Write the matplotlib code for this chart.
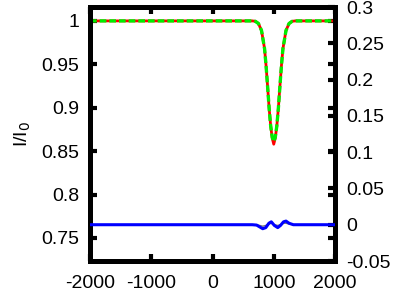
import matplotlib
matplotlib.use("Agg")
import matplotlib.pyplot as plt

plt.rcParams['font.family'] = ['Liberation Sans', 'DejaVu Sans']

# transmission dip (left axis)
dip_x = [-2000, 650, 700, 750, 800, 850, 875, 900, 925, 950, 975, 1000,
         1025, 1050, 1075, 1100, 1125, 1150, 1200, 1250, 1300, 1350, 2000]
dip_red = [1, 1, 0.9995, 0.997, 0.989, 0.968, 0.948, 0.924, 0.899, 0.879, 0.865, 0.858,
           0.865, 0.879, 0.899, 0.924, 0.948, 0.968, 0.989, 0.997, 0.9995, 1, 1]
dip_green = [1, 1, 0.9995, 0.997, 0.989, 0.968, 0.948, 0.924, 0.899, 0.879, 0.866, 0.861,
             0.866, 0.879, 0.899, 0.924, 0.948, 0.968, 0.989, 0.997, 0.9995, 1, 1]

# small residual (right axis)
res_x = [-2000, 650, 720, 770, 820, 870, 920, 960, 1010, 1065, 1110, 1160, 1200, 1250, 1320, 2000]
res_blue = [0, 0, -0.0005, -0.003, -0.0055, -0.004, 0.002, 0.004, -0.001, -0.004, -0.001, 0.004, 0.005, 0.002, 0.0, 0]
res_gray = [0, 0, 0.0, -0.001, -0.002, -0.001, 0.001, 0.002, 0.0, -0.001, 0.0, 0.002, 0.002, 0.001, 0.0, 0]

xticks = [-2000, -1000, 0, 1000, 2000]
yticks_left = [0.75, 0.8, 0.85, 0.9, 0.95, 1]
yticks_right = [-0.05, 0, 0.05, 0.1, 0.15, 0.2, 0.25, 0.3]

fig = plt.figure(figsize=(3.99, 2.94), dpi=100)
ax = fig.add_axes([90 / 399, 1 - 261 / 294, 245 / 399, 254 / 294])
ax2 = ax.twinx()

ax.plot(dip_x, dip_red, color='#ff0000', lw=2.0, zorder=3)
ax.plot(dip_x, dip_green, color='#00ee00', lw=2.4, dashes=(2.0, 0.9), zorder=4)
ax2.plot(res_x, res_gray, color='#777777', lw=1.0, zorder=2)
ax2.plot(res_x, res_blue, color='#0000ff', lw=2.2, zorder=3)

ax.set_xlim(-2000, 2000)
ax.set_ylim(0.7235, 1.016)
ax2.set_ylim(-0.05, 0.3)
ax.set_xticks(xticks)
ax.set_xticklabels([str(v) for v in xticks])
ax.set_yticks(yticks_left)
ax.set_yticklabels(['0.75', '0.8', '0.85', '0.9', '0.95', '1'])
ax2.set_yticks(yticks_right)
ax2.set_yticklabels(['-0.05', '0', '0.05', '0.1', '0.15', '0.2', '0.25', '0.3'])

for a in (ax, ax2):
    for s in a.spines.values():
        s.set_linewidth(3.6)
    a.tick_params(direction='in', length=5, width=3, labelsize=14, pad=8)
ax.tick_params(axis='x', top=True, pad=10)
ax.tick_params(axis='y', right=True)
ax.set_ylabel('I/I$_0$', fontsize=14, labelpad=6)

fig.savefig('out.png', dpi=100)
